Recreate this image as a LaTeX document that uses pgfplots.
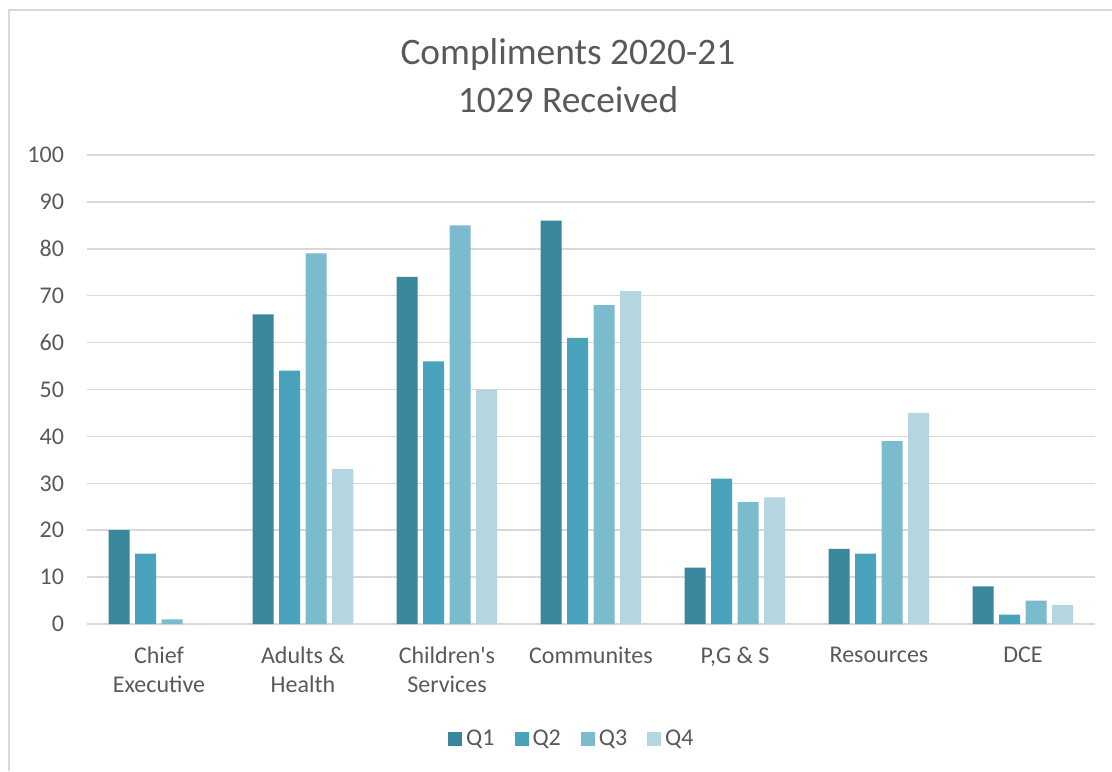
\documentclass[border=0pt]{standalone}
\usepackage{pgfplots}
\pgfplotsset{compat=1.18}
\usepackage{fontspec}
\setmainfont{Carlito}[Ligatures=TeXOff]
\definecolor{cq1}{HTML}{38879A}
\definecolor{cq2}{HTML}{48A2BA}
\definecolor{cq3}{HTML}{7CBACE}
\definecolor{cq4}{HTML}{B5D5E0}
\definecolor{txt}{HTML}{595959}
\definecolor{grd}{HTML}{D9D9D9}
\begin{document}
\begin{tikzpicture}
\path[use as bounding box] (0,0) rectangle (556pt,385.5pt);
\draw[grd, line width=0.8pt] (4.5pt,0) -- (4.5pt,380.5pt) -- (556pt,380.5pt);
\node[txt, font=\fontsize{18.7}{20}\selectfont] at (284pt,358pt) {Compliments 2020-21};
\node[txt, font=\fontsize{18.7}{20}\selectfont] at (284pt,335.5pt) {1029 Received};
\begin{axis}[
  at={(43.5pt,73.5pt)}, anchor=south west,
  scale only axis, width=504pt, height=234.5pt,
  xmin=-0.5, xmax=6.5, ymin=0, ymax=100,
  ybar=2.75pt, bar width=10.5pt,
  axis y line*=left,
  y axis line style={draw=none},
  axis x line*=bottom,
  x axis line style={grd, line width=0.8pt, -},
  ymajorgrids, grid style={grd, line width=0.8pt},
  ytick={0,10,...,100},
  xtick={0,...,6},
  xticklabels={{Chief\\Executive},{Adults \&\\Health},{Children's\\Services},Communites,{P,G \& S},Resources,DCE},
  major tick length=0pt,
  tick style={draw=none},
  /pgf/number format/assume math mode=true,
  ticklabel style={txt, font=\fontsize{12}{14.5}\selectfont},
  xticklabel style={align=center, anchor=north, yshift=-8pt},
  yticklabel style={xshift=-8pt},
  legend style={at={(0.482,-0.245)}, anchor=center, draw=none, legend columns=4,
    font=\fontsize{12}{14}\selectfont, text=txt,
    /tikz/every even column/.append style={column sep=8pt}},
  legend image code/.code={\fill[#1] (0pt,-3.5pt) rectangle (7pt,3.5pt);},
]
\addplot[fill=cq1, draw=none] coordinates {(0,20) (1,66) (2,74) (3,86) (4,12) (5,16) (6,8)};
\addplot[fill=cq2, draw=none] coordinates {(0,15) (1,54) (2,56) (3,61) (4,31) (5,15) (6,2)};
\addplot[fill=cq3, draw=none] coordinates {(0,1) (1,79) (2,85) (3,68) (4,26) (5,39) (6,5)};
\addplot[fill=cq4, draw=none] coordinates {(0,0) (1,33) (2,50) (3,71) (4,27) (5,45) (6,4)};
\legend{Q1,Q2,Q3,Q4}
\end{axis}
\end{tikzpicture}
\end{document}
